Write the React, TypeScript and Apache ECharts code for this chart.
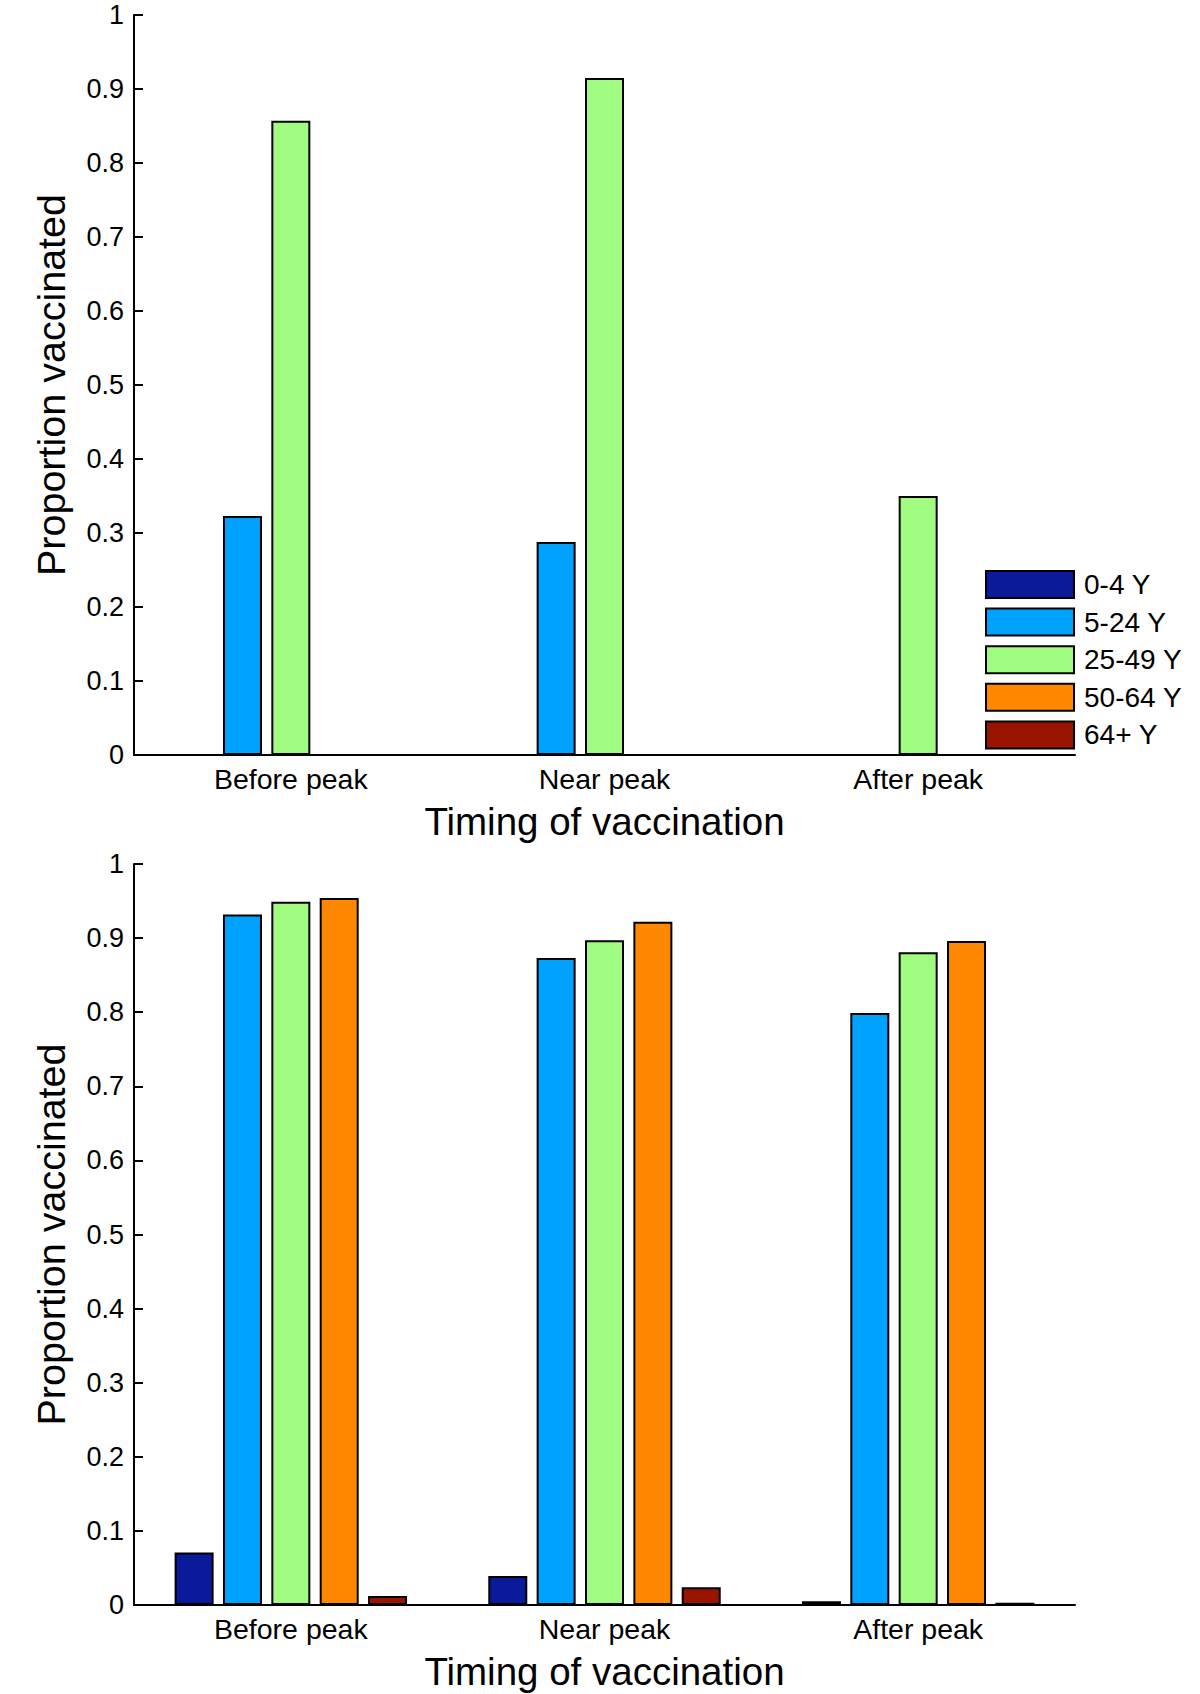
import React, { useEffect, useRef } from "react";
import * as echarts from "echarts";

const categories = ["Before peak", "Near peak", "After peak"];
const ageGroups = ["0-4 Y", "5-24 Y", "25-49 Y", "50-64 Y", "64+ Y"];
const groupColors = ["#0a1a9a", "#00a2ff", "#a0fc80", "#ff8800", "#991500"];
const yTicksMax = 1;

// Top panel
const topAge0to4 = [0, 0, 0];
const topAge5to24 = [0.323, 0.288, 0];
const topAge25to49 = [0.857, 0.915, 0.35];
const topAge50to64 = [0, 0, 0];
const topAge64plus = [0, 0, 0];

// Bottom panel
const botAge0to4 = [0.071, 0.039, 0.005];
const botAge5to24 = [0.932, 0.873, 0.799];
const botAge25to49 = [0.949, 0.897, 0.881];
const botAge50to64 = [0.954, 0.922, 0.896];
const botAge64plus = [0.012, 0.024, 0.003];

const topData = [topAge0to4, topAge5to24, topAge25to49, topAge50to64, topAge64plus];
const botData = [botAge0to4, botAge5to24, botAge25to49, botAge50to64, botAge64plus];

const FONT = "'Liberation Sans', Arial, sans-serif";

export default function App() {
  const ref = useRef<HTMLDivElement>(null);
  useEffect(() => {
    document.body.style.margin = "0";
    const chart = echarts.init(ref.current!, undefined, { renderer: "svg" });
    const xAxisBase = (gridIndex: number) => ({
      type: "category",
      gridIndex,
      data: categories,
      name: "Timing of vaccination",
      nameLocation: "middle",
      nameGap: 47,
      nameTextStyle: { fontSize: 38.5, color: "#000", fontFamily: FONT },
      axisLine: { lineStyle: { color: "#000", width: 2 } },
      axisTick: { show: false },
      axisLabel: { fontSize: 28.5, color: "#000", margin: 9, fontFamily: FONT },
      splitLine: { show: false },
    });
    const yAxisBase = (gridIndex: number) => ({
      type: "value",
      gridIndex,
      min: 0,
      max: yTicksMax,
      interval: 0.1,
      name: "Proportion vaccinated",
      nameLocation: "middle",
      nameGap: 63,
      nameTextStyle: { fontSize: 39.5, color: "#000", fontFamily: FONT },
      axisLine: { show: true, lineStyle: { color: "#000", width: 2 } },
      axisTick: { show: true, inside: true, length: 9, lineStyle: { color: "#000", width: 2 } },
      axisLabel: { fontSize: 27, color: "#000", margin: 10, fontFamily: FONT },
      splitLine: { show: false },
    });
    const makeSeries = (data: number[][], idx: number) =>
      ageGroups.map((name, i) => ({
        type: "bar",
        name,
        xAxisIndex: idx,
        yAxisIndex: idx,
        data: data[i],
        barWidth: 39,
        barGap: "24%",
        itemStyle: { color: groupColors[i], borderColor: "#000", borderWidth: 2 },
      }));
    chart.setOption({
      animation: false,
      backgroundColor: "#fff",
      textStyle: { fontFamily: FONT },
      grid: [
        { left: 134, right: 125, top: 15, height: 740, containLabel: false },
        { left: 134, right: 125, top: 864, height: 741, containLabel: false },
      ],
      legend: {
        orient: "vertical",
        left: 985,
        top: 570,
        icon: "rect",
        itemWidth: 88,
        itemHeight: 27,
        itemGap: 8.6,
        data: ageGroups,
        textStyle: { fontSize: 28, color: "#000", fontFamily: FONT, padding: [0, 0, 0, 5] },
        itemStyle: { borderColor: "#000", borderWidth: 2 },
        padding: 0,
        selectedMode: false,
      },
      xAxis: [xAxisBase(0), xAxisBase(1)],
      yAxis: [yAxisBase(0), yAxisBase(1)],
      series: [...makeSeries(topData, 0), ...makeSeries(botData, 1)],
    });
    return () => chart.dispose();
  }, []);
  return <div ref={ref} style={{ width: 1200, height: 1694 }} />;
}
